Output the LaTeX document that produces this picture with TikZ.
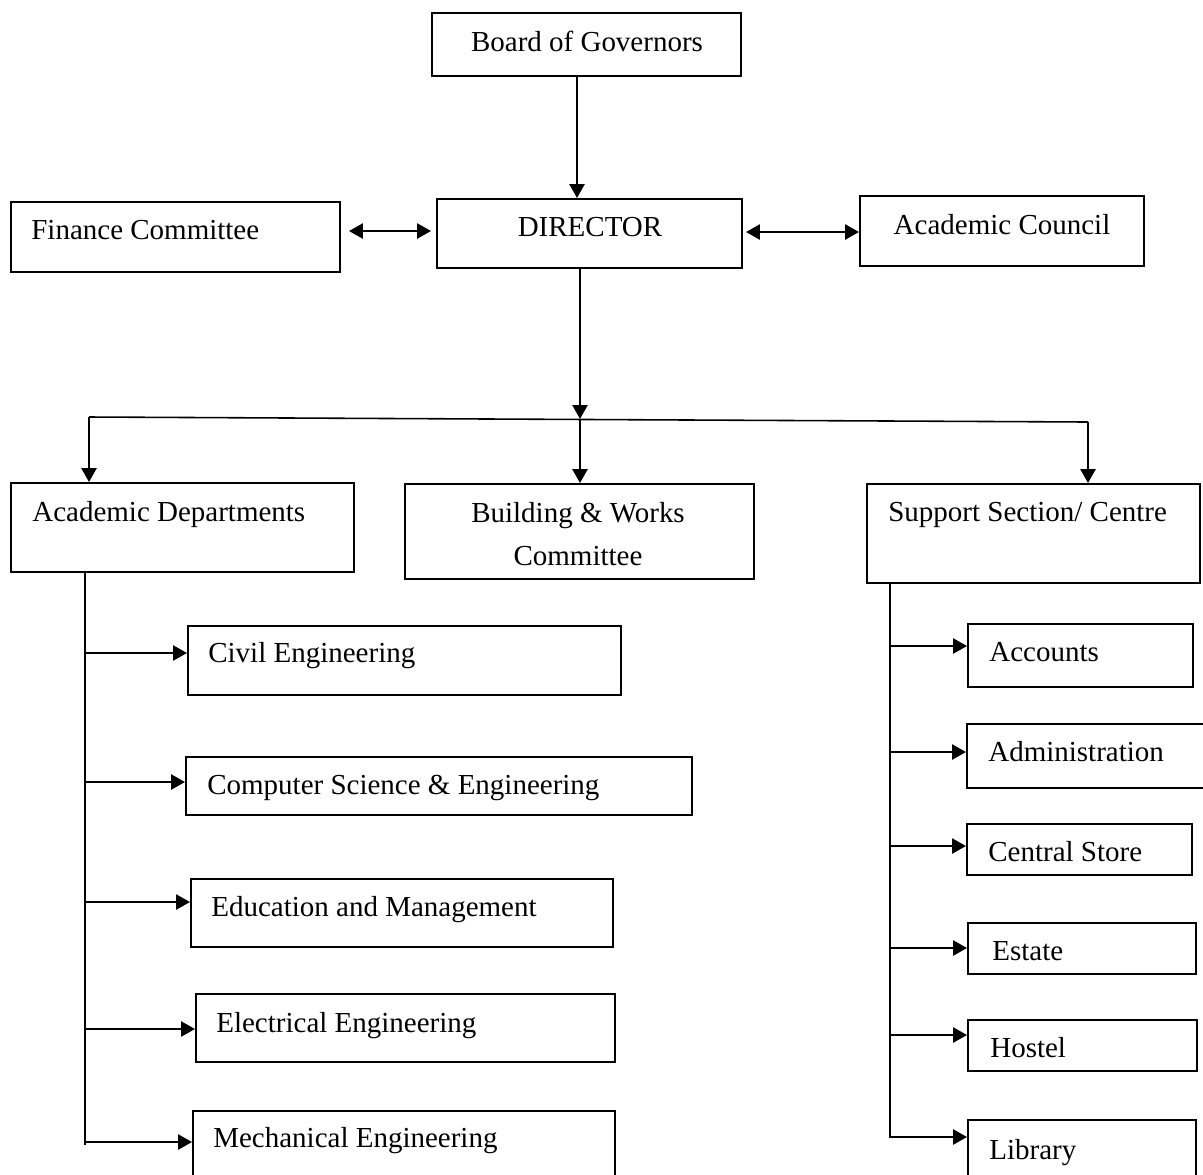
\documentclass[tikz,border=0pt]{standalone}
\usepackage{fontspec}
\setmainfont{Liberation Serif}
\usetikzlibrary{arrows.meta,fit}

\tikzset{
  box/.style={draw, line width=1.1pt, inner sep=0pt},
  lbl/.style={font=\fontsize{16.5}{24.5}\selectfont, inner sep=0pt, text height=11pt, text depth=0pt, anchor=west},
  arr/.style={line width=1.5pt, -{Triangle[length=0.28cm,width=0.3cm]}},
  darr/.style={line width=1.5pt, {Triangle[length=0.28cm,width=0.3cm]}-{Triangle[length=0.28cm,width=0.3cm]}},
  trunk/.style={line width=0.6pt}
}

\begin{document}
\begin{tikzpicture}[x=0.02cm, y=-0.02cm]
\useasboundingbox (0,0) rectangle (1203,1174);
\clip (0,0) rectangle (1203,1174);

% top row
\node[box, fit={(432,13) (741,76)}] (gov) {};
\node[box, fit={(11,202) (340,272)}] (fin) {};
\node[box, fit={(437,199) (742,268)}] (dir) {};
\node[box, fit={(860,196) (1144,266)}] (acc) {};
\node[lbl, anchor=center] (govt) at (587,42) {Board of Governors};
\node[lbl] (fint) at (31,230) {Finance Committee};
\node[lbl, anchor=center] (dirt) at (590,227) {DIRECTOR};
\node[lbl, anchor=center] (acct) at (1002,225) {Academic Council};

\draw[arr] ([xshift=-0.19cm]gov.south) -- ([xshift=-0.19cm]gov.south |- dir.north);
\draw[darr] ([xshift=0.16cm,yshift=0.12cm]fin.east) -- ([xshift=-0.1cm,yshift=0.12cm]fin.east -| dir.west);
\draw[darr] ([xshift=0.06cm,yshift=0.03cm]dir.east) -- ([yshift=0.03cm]dir.east -| acc.west);

% second row
\node[box, fit={(11,483) (354,572)}] (dep) {};
\node[box, fit={(405,484) (754,579)}] (bld) {};
\node[box, fit={(867,484) (1200,583)}] (sup) {};
\node[lbl] (dept) at (32,512) {Academic Departments};
\node[font=\fontsize{16.5}{24.5}\selectfont, inner sep=0pt, align=center] (bldt) at (578,534) {Building \& Works\\Committee};
\node[lbl] (supt) at (888,512) {Support Section/ Centre};

\coordinate (busl) at (89,417);
\coordinate (busm) at (580,419);
\coordinate (busr) at (1088,422);
\draw[line width=0.9pt] (busl) -- (busr);
\draw[arr] (dir.south -| busm) -- (busm);
\draw[arr] (busm) -- (bld.north -| busm);
\draw[arr] (busl) -- (dep.north -| busl);
\draw[arr] (busr) -- (sup.north -| busr);

% academic departments
\node[box, fit={(188,626) (621,695)}] (civ) {};
\node[box, fit={(186,757) (692,815)}] (cse) {};
\node[box, fit={(191,879) (613,947)}] (edu) {};
\node[box, fit={(196,994) (615,1062)}] (ele) {};
\node[box, fit={(193,1111) (615,1190)}] (mec) {};
\node[lbl] (civt) at (208,653) {Civil Engineering};
\node[lbl] (cset) at (207,785) {Computer Science \& Engineering};
\node[lbl] (edut) at (211,907) {Education and Management};
\node[lbl] (elet) at (216,1023) {Electrical Engineering};
\node[lbl] (mect) at (213,1138) {Mechanical Engineering};

\coordinate (ltop) at (85,572);
\coordinate (lbot) at (85,1145);
\draw[trunk] (ltop) -- (lbot);
\foreach \n/\y in {civ/653, cse/782, edu/902, ele/1029, mec/1142} {
  \coordinate (\n-l) at (86,\y);
  \draw[arr] (\n-l) -- (\n-l -| \n.west);
}

% support sections
\node[box, fit={(968,624) (1193,687)}] (acn) {};
\node[box, fit={(967,724) (1215,788)}] (adm) {};
\node[box, fit={(967,824) (1192,875)}] (cst) {};
\node[box, fit={(968,923) (1196,974)}] (est) {};
\node[box, fit={(968,1020) (1197,1071)}] (hos) {};
\node[box, fit={(968,1120) (1196,1190)}] (lib) {};
\node[lbl] (acnt) at (989,652) {Accounts};
\node[lbl] (admt) at (988,752) {Administration};
\node[lbl] (cstt) at (988,852) {Central Store};
\node[lbl] (estt) at (992,951) {Estate};
\node[lbl] (host) at (990,1048) {Hostel};
\node[lbl] (libt) at (989,1150) {Library};

\coordinate (rtop) at (890,583);
\coordinate (rbot) at (890,1137);
\draw[trunk] (rtop) -- (rbot);
\foreach \n/\y in {acn/646, adm/752, cst/846, est/948, hos/1035, lib/1137} {
  \coordinate (\n-l) at (889,\y);
  \draw[arr] (\n-l) -- (\n-l -| \n.west);
}
\end{tikzpicture}
\end{document}
